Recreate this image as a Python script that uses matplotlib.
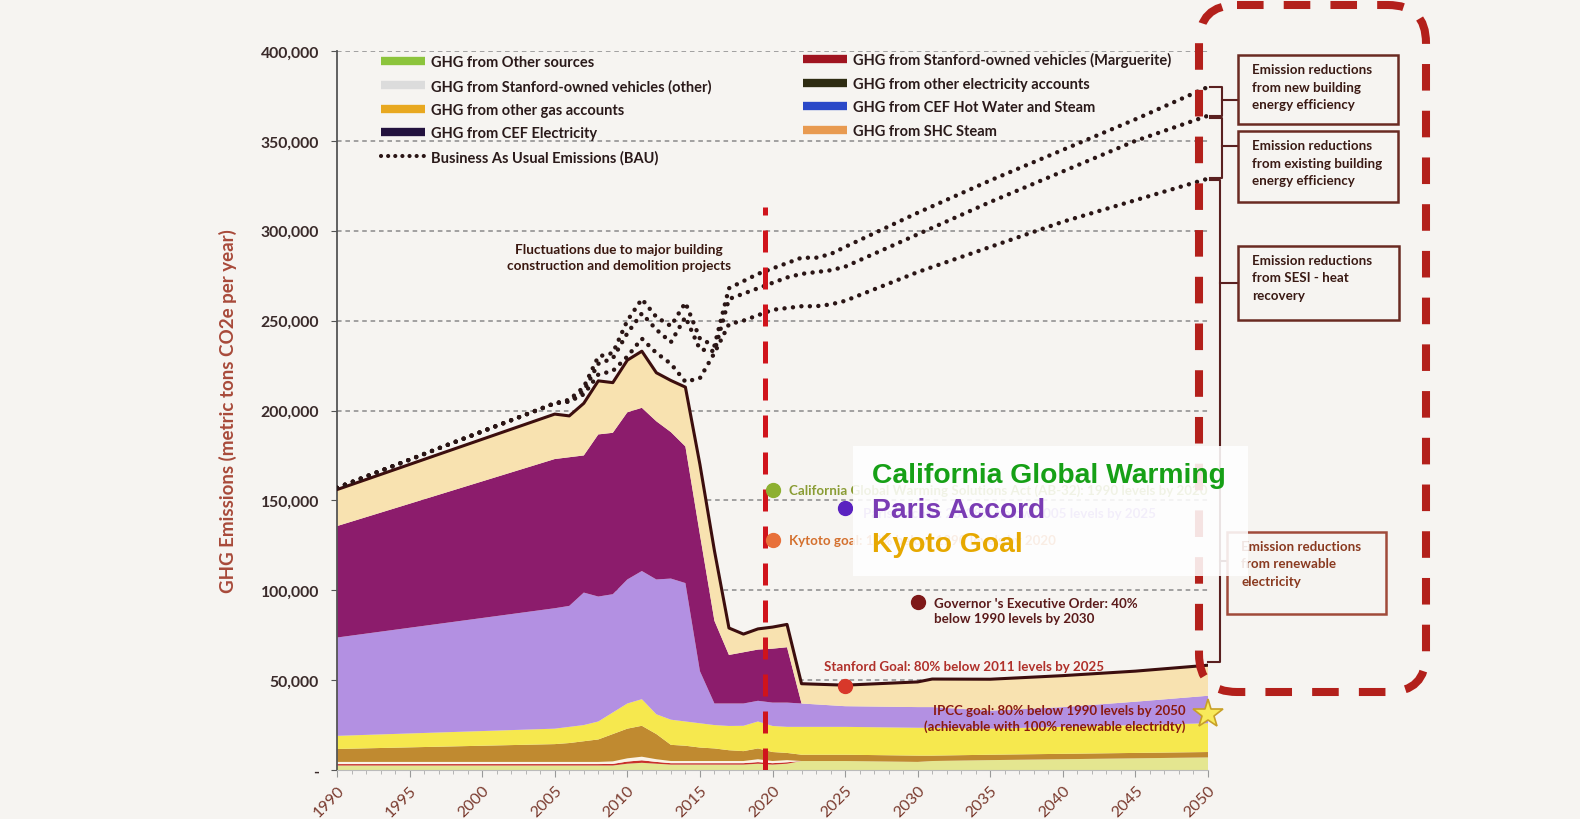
import numpy as np
import matplotlib
matplotlib.use('Agg')
import matplotlib.pyplot as plt
from matplotlib.lines import Line2D
from matplotlib.patches import Rectangle, FancyBboxPatch

plt.rcParams['font.family'] = ['Lato', 'DejaVu Sans']

# --- Data (thousand metric tons CO2e per year) ---
years = [1990, 2005, 2006, 2007, 2008, 2009, 2010, 2011, 2012, 2013, 2014, 2015, 2016,
         2017, 2018, 2019, 2020, 2021, 2022, 2025, 2030, 2031, 2035, 2040, 2045, 2050]

other_sources = [2.5, 2.5, 2.5, 2.5, 2.5, 2.5, 3.5, 4.0, 3.5, 3.0, 3.0, 3.0, 3.0,
                 3.0, 3.0, 3.5, 3.0, 3.5, 5.0, 5.0, 4.5, 5.0, 5.5, 6.0, 6.5, 7.0]
marguerite = [0.8, 0.8, 0.8, 0.8, 0.8, 0.9, 1.2, 1.4, 1.0, 0.8, 0.8, 0.8, 0.8,
              0.8, 0.8, 0.9, 0.8, 0.8, 0, 0, 0, 0, 0, 0, 0, 0]
vehicles_other = [1.2, 1.2, 1.2, 1.2, 1.2, 1.4, 1.8, 2.0, 1.5, 1.2, 1.2, 1.2, 1.2,
                  1.2, 1.2, 1.6, 1.2, 1.2, 0, 0, 0, 0, 0, 0, 0, 0]
other_elec = [7.2, 9.9, 10.5, 11.5, 12.5, 15.2, 16.5, 17.2, 14.0, 9.0, 8.5, 7.5, 7.0,
              6.0, 5.5, 6.0, 5.0, 4.0, 3.5, 3.5, 3.5, 3.0, 3.0, 3.0, 3.0, 3.0]
other_gas = [7.3, 8.6, 9.0, 9.0, 10.0, 12.0, 14.0, 14.8, 11.0, 14.0, 13.5, 13.5, 13.0,
             13.5, 14.1, 15.0, 14.5, 14.5, 15.5, 15.5, 15.5, 15.5, 14.5, 15.0, 15.5, 16.0]
cef_hot_water = [54.7, 67.0, 67.3, 73.7, 69.5, 65.8, 69.0, 71.3, 75.0, 78.5, 77.0, 29.0, 12.0,
                 12.5, 12.4, 11.5, 13.0, 13.5, 13.0, 11.5, 11.5, 11.5, 10.0, 11.0, 13.0, 15.3]
cef_elec = [62.0, 83.0, 82.7, 76.3, 90.2, 89.8, 93.0, 90.8, 88.0, 81.5, 76.0, 76.0, 46.0,
            27.0, 28.5, 28.5, 30.0, 30.8, 0, 0, 0, 0, 0, 0, 0, 0]
shc_steam = [20.3, 25.0, 23.0, 29.0, 29.8, 27.9, 29.0, 31.5, 27.0, 28.7, 33.0, 39.0, 39.0,
             15.0, 10.1, 11.5, 12.0, 12.7, 11.0, 11.7, 14.0, 15.6, 17.5, 17.5, 17.0, 17.0]

bau_years = [1990, 2005, 2006, 2007, 2008, 2009, 2010, 2011, 2012, 2013, 2014, 2015, 2016,
             2017, 2018, 2019, 2020, 2021, 2022, 2023, 2024, 2025, 2030, 2035, 2040, 2045, 2050]
bau_new_bldg = [157, 204, 206, 213, 230, 232, 250, 262, 252, 247, 260, 240, 236,
                268, 272, 276, 279, 282, 285, 285, 287, 291, 310, 328, 345, 362, 380]
bau_existing = [157, 204, 205, 211, 226, 229, 243, 254, 245, 238, 252, 234, 233,
                262, 265, 268, 271, 274, 276, 277, 278, 280, 298, 316, 333, 350, 364]
bau_sesi = [157, 204, 205, 209, 220, 222, 230, 240, 232, 226, 216, 218, 232,
            248, 250, 253, 256, 257, 258, 258, 259, 261, 277, 291, 305, 317, 329]

goal_years = [2020, 2025, 2020, 2030, 2025]
goal_values = [156.0, 146.0, 128.0, 93.6, 46.6]
goal_colors = ['#8db030', '#5a22c0', '#e8703a', '#7e1818', '#d8382a']
goal_labels = ['California Global Warming Solutions Act (AB-32): 1990 levels by 2020',
               'Paris Accord: 26-28% below 2005 levels by 2025',
               'Kytoto goal: 10% below 1990 levels by 2020',
               "Governor 's Executive Order: 40%\nbelow 1990 levels by 2030",
               'Stanford Goal: 80% below 2011 levels by 2025']
goal_text_colors = ['#8a9c34', '#9c78d8', '#d4702e', '#5a1a1a', '#b0302a']
goal_offsets = [(12, 0), (13, -3.6), (12, 0), (12, -6), (-15, 14.5)]
ipcc_year, ipcc_value = 2050, 31.2

y_ticks = [0, 50, 100, 150, 200, 250, 300, 350, 400]
x_ticks = list(range(1990, 2051, 5))

layer_colors = ['#e4e690', '#c8302a', '#fbf3e6', '#c08a30', '#f6e84e', '#b390e2', '#8c1c6c', '#f8e2b0']

# --- Figure ---
fig = plt.figure(figsize=(15.8, 8.2), dpi=100)
fig.patch.set_facecolor('#f6f4f1')
ax = fig.add_axes([337 / 1580, 1 - 771 / 820, 871 / 1580, 719 / 820])
ax.set_facecolor('none')

ax.stackplot(years, other_sources, marguerite, vehicles_other, other_elec, other_gas,
             cef_hot_water, cef_elec, shc_steam, colors=layer_colors, linewidth=0, zorder=2)
total = np.vstack([other_sources, marguerite, vehicles_other, other_elec, other_gas,
                   cef_hot_water, cef_elec, shc_steam]).sum(axis=0)
ax.plot(years, total, color='#3c0e0e', lw=2.2, zorder=3)

dot_style = dict(color='#2a1515', lw=3.2, linestyle=(0, (0.01, 1.9)), dash_capstyle='round', zorder=4)
for series in (bau_new_bldg, bau_existing, bau_sesi):
    ax.plot(bau_years, series, **dot_style)

ax.vlines(2019.5, 0, 313, colors='#d0141c', lw=3.6, linestyles=[(0, (4.4, 3))], zorder=5)

ax.set_xlim(1990, 2050)
ax.set_ylim(0, 400)
ax.set_axisbelow(True)
ax.grid(axis='y', linestyle=(0, (3, 2.5)), color='#8a8a8a', lw=1.1)
ax.set_yticks(y_ticks, labels=['-' if v == 0 else f'{v * 1000:,}' for v in y_ticks],
              fontweight='bold', fontsize=11.3, color='#3a2a2a')
ax.set_xticks(x_ticks, labels=[str(y) for y in x_ticks], rotation=45, ha='right',
              rotation_mode='anchor', fontsize=11.5, color='#7a3a2e')
ax.set_xticks(range(1990, 2051), minor=True)
ax.tick_params(axis='y', length=4, color='#555555', pad=9)
ax.tick_params(axis='x', which='major', length=5, color='#999999', pad=4)
ax.tick_params(axis='x', which='minor', length=3, color='#aaaaaa')
for side in ('top', 'right'):
    ax.spines[side].set_visible(False)
ax.spines['left'].set_color('#555555')
ax.spines['left'].set_linewidth(1.3)
ax.spines['bottom'].set_color('#bbbbbb')
ax.set_ylabel('GHG Emissions (metric tons CO2e per year)', fontsize=13.5, fontweight='bold',
              color='#a84a3a')
ax.yaxis.set_label_coords(-0.115, 0.5)

# goal markers
for yr, val, c, lab, tc, off in zip(goal_years, goal_values, goal_colors, goal_labels,
                                    goal_text_colors, goal_offsets):
    ax.plot(yr, val, 'o', ms=10, color=c, mec=c, zorder=6, clip_on=False)
    ax.annotate(lab, (yr, val), xytext=off, textcoords='offset points', ha='left', va='center',
                fontsize=9.6, fontweight='bold', color=tc, linespacing=1.3, zorder=6)
ax.plot(ipcc_year, ipcc_value, marker='*', ms=22, color='#f8ea5a', mec='#c8a028', mew=1.2,
        zorder=7, clip_on=False)
ax.annotate('IPCC goal: 80% below 1990 levels by 2050\n(achievable with 100% renewable electridty)',
            (ipcc_year, ipcc_value), xytext=(-16, -3), textcoords='offset points',
            ha='right', va='center', multialignment='right', fontsize=9.5,
            fontweight='bold', color='#8a1a10', linespacing=1.3, zorder=6)

# legends
leg_kw = dict(loc='upper left', frameon=False, borderpad=0, borderaxespad=0,
              handlelength=3.0, handletextpad=0.45, labelspacing=0.66,
              bbox_transform=fig.transFigure, prop={'weight': 'bold', 'size': 10.5})
left_handles = [Line2D([0], [0], color='#8cc43c', lw=6, solid_capstyle='butt'),
                Line2D([0], [0], color='#dcdcdc', lw=6, solid_capstyle='butt'),
                Line2D([0], [0], color='#e8a820', lw=6, solid_capstyle='butt'),
                Line2D([0], [0], color='#23123e', lw=6, solid_capstyle='butt'),
                Line2D([0], [0], color='#2a1515', lw=3, linestyle=(0, (0.01, 1.7)),
                       dash_capstyle='round')]
left_labels = ['GHG from Other sources', 'GHG from Stanford-owned vehicles (other)',
               'GHG from other gas accounts', 'GHG from CEF Electricity',
               'Business As Usual Emissions (BAU)']
right_handles = [Line2D([0], [0], color=c, lw=6, solid_capstyle='butt')
                 for c in ('#a01420', '#2e2c12', '#2a48c8', '#e89a50')]
right_labels = ['GHG from Stanford-owned vehicles (Marguerite)', 'GHG from other electricity accounts',
                'GHG from CEF Hot Water and Steam', 'GHG from SHC Steam']
leg1 = ax.legend(left_handles, left_labels, bbox_to_anchor=(381 / 1580, 1 - 56 / 820), **leg_kw)
for t in leg1.get_texts():
    t.set_color('#2a1a1a')
ax.add_artist(leg1)
leg2 = ax.legend(right_handles, right_labels, bbox_to_anchor=(803 / 1580, 1 - 53 / 820), **leg_kw)
for t in leg2.get_texts():
    t.set_color('#2a1a1a')

# --- Overlay in pixel coordinates for the slide annotations ---
ov = fig.add_axes([0, 0, 1, 1])
ov.set_xlim(0, 1580)
ov.set_ylim(820, 0)
ov.axis('off')
ov.patch.set_alpha(0)

ov.text(619, 258, 'Fluctuations due to major building\nconstruction and demolition projects',
        ha='center', va='center', fontsize=9.8, fontweight='bold', color='#3a1810', linespacing=1.35)

# dashed rounded frame on the right
frame = FancyBboxPatch((1199, 6), 227, 687, boxstyle='round,pad=0,rounding_size=38',
                       fill=False, ec='#b3201b', lw=5.8, linestyle=(0, (3.3, 2.5)), zorder=2)
frame.set_capstyle('butt')
ov.add_patch(frame)

# brackets joining the BAU lines to the boxes
br = dict(color='#5a2020', lw=1.5, zorder=2)
ov.plot([1210, 1222, 1222, 1210], [88, 88, 117, 117], **br)
ov.plot([1222, 1238], [101, 101], **br)
ov.plot([1210, 1222, 1222, 1210], [119, 119, 179, 179], **br)
ov.plot([1222, 1238], [147, 147], **br)
ov.plot([1210, 1220, 1220, 1208], [181, 181, 663, 663], **br)
ov.plot([1220, 1238], [284, 284], **br)
ov.plot([1220, 1227], [562, 562], **br)

boxes = [((1238, 56), 160, 69, 'Emission reductions\nfrom new building\nenergy efficiency', '#3a1a14', '#6a2a22'),
         ((1238, 132), 160, 71, 'Emission reductions\nfrom existing building\nenergy efficiency', '#3a1a14', '#6a2a22'),
         ((1238, 247), 161, 74, 'Emission reductions\nfrom SESI - heat\nrecovery', '#3a1a14', '#6a2a22'),
         ((1227, 533), 159, 82, 'Emission reductions\nfrom renewable\nelectricity', '#8a3a20', '#a04a3a')]
for (bx, by), bw, bh, txt, tc, ec in boxes:
    ov.add_patch(Rectangle((bx, by), bw, bh, fill=False, ec=ec, lw=1.8, zorder=2))
    ov.text(bx + 14, by + 8, txt, ha='left', va='top', fontsize=9.6, fontweight='bold',
            color=tc, linespacing=1.55, zorder=2)

# white highlight panel with the goal names
ov.add_patch(Rectangle((853, 447), 395, 130, fc='white', ec='none', alpha=0.88, zorder=5))
for txt, c, yy in (('California Global Warming', '#16a016', 476),
                   ('Paris Accord', '#7a3cb4', 511),
                   ('Kyoto Goal', '#e6a800', 545)):
    ov.text(872, yy, txt, ha='left', va='center', fontsize=20.3, fontweight='bold',
            family=['Liberation Sans', 'DejaVu Sans'], color=c, zorder=6)

fig.savefig('out.png', dpi=100, facecolor=fig.get_facecolor())
